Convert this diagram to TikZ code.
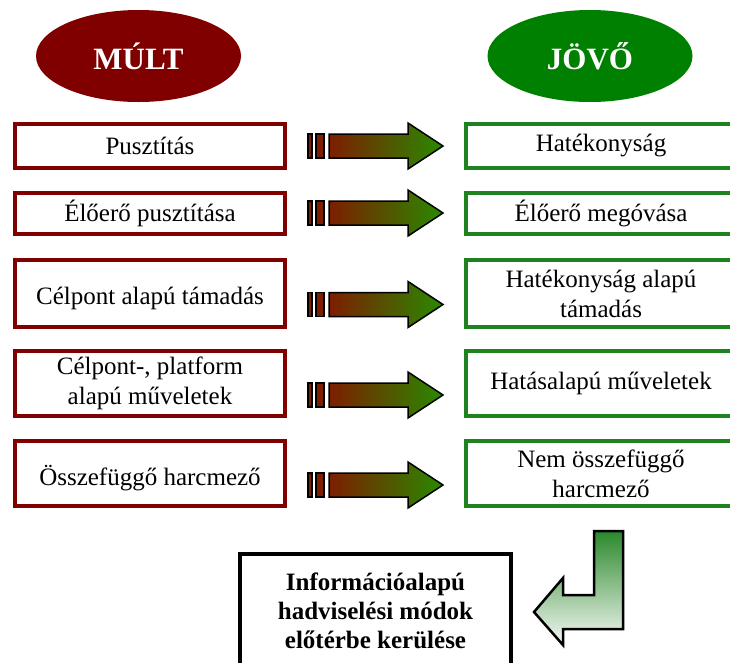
\documentclass[tikz,border=0pt]{standalone}
\usepackage{fontspec}
\setmainfont{Liberation Serif}
\usetikzlibrary{shapes.geometric}
\definecolor{multred}{HTML}{800000}
\definecolor{jovogreen}{HTML}{008000}
\definecolor{boxgreen}{HTML}{1E821E}
\definecolor{arrred}{HTML}{7D1E00}
\definecolor{arrgreen}{HTML}{2A8A00}
\definecolor{turngreen}{HTML}{2B892B}
\definecolor{turnwhite}{HTML}{F6F8F6}

\begin{document}
\begin{tikzpicture}[x=1pt,y=-1pt]
\tikzstyle{every node}=[font=\fontsize{25}{30}\selectfont,inner sep=0pt]
\tikzstyle{every label}=[font=\fontsize{25}{30}\selectfont,yshift=-5pt]
\tikzstyle{oldbox}=[draw=multred,line width=3.5pt,minimum width=270pt,align=center]
\tikzstyle{newbox}=[draw=boxgreen,line width=3.5pt,minimum width=270pt,align=center]
\tikzstyle{era}=[ellipse,minimum width=205pt,minimum height=92pt,text=white,font=\fontsize{31}{36}\selectfont\bfseries]
\tikzstyle{pipe}=[draw=black,line width=1.5pt]
\useasboundingbox (0,0) rectangle (730,662);
\node (MULT) [era,fill=multred] at (138.5,56) {MÚLT};
\node (JOVO) [era,fill=jovogreen] at (590,56) {JÖVŐ};
\node (L1) [oldbox,minimum height=44pt] at (150,146) {Pusztítás};
\node (L2) [oldbox,minimum height=41pt] at (150,213.5) {Élőerő pusztítása};
\node (L3) [oldbox,minimum height=67pt,label=center:Célpont alapú támadás] at (150,293.5) {};
\node (L4) [oldbox,minimum height=65pt] at (150,383.5) {Célpont-, platform\\alapú műveletek};
\node (L5) [oldbox,minimum height=65pt,label=center:Összefüggő harcmező] at (150,473.5) {};
\node (R1) [newbox,minimum height=44pt] at (601,146) {Hatékonyság};
\node (R2) [newbox,minimum height=41pt] at (601,213.5) {Élőerő megóvása};
\node (R3) [newbox,minimum height=67pt] at (601,293.5) {Hatékonyság alapú\\támadás};
\node (R4) [newbox,minimum height=65pt] at (601,383.5) {Hatásalapú műveletek};
\node (R5) [newbox,minimum height=65pt] at (601,473.5) {Nem összefüggő\\harcmező};
\node (INFO) [draw=black,line width=4pt,minimum width=271pt,minimum height=114pt,align=center,font=\fontsize{25}{29}\selectfont\bfseries] at (375.5,611) {Információalapú\\hadviselési módok\\előtérbe kerülése};
\foreach \y in {146,213,304.5,395,485}{
  \draw[pipe,fill=arrred] (308,\y-12) rectangle (312,\y+12);
  \draw[pipe,fill=arrred] (316,\y-12) rectangle (324,\y+12);
  \draw[pipe,left color=arrred,right color=arrgreen] (329,\y-12) -- (408,\y-12) -- (408,\y-23) -- (443,\y) -- (408,\y+23) -- (408,\y+12) -- (329,\y+12) -- cycle;
}
\draw[draw=black,line width=2.5pt,top color=turngreen,bottom color=turnwhite] (594,531) -- (623,531) -- (623,629) -- (563,629) -- (563,645) -- (534,612) -- (563,578) -- (563,595) -- (594,595) -- cycle;
\end{tikzpicture}
\end{document}
